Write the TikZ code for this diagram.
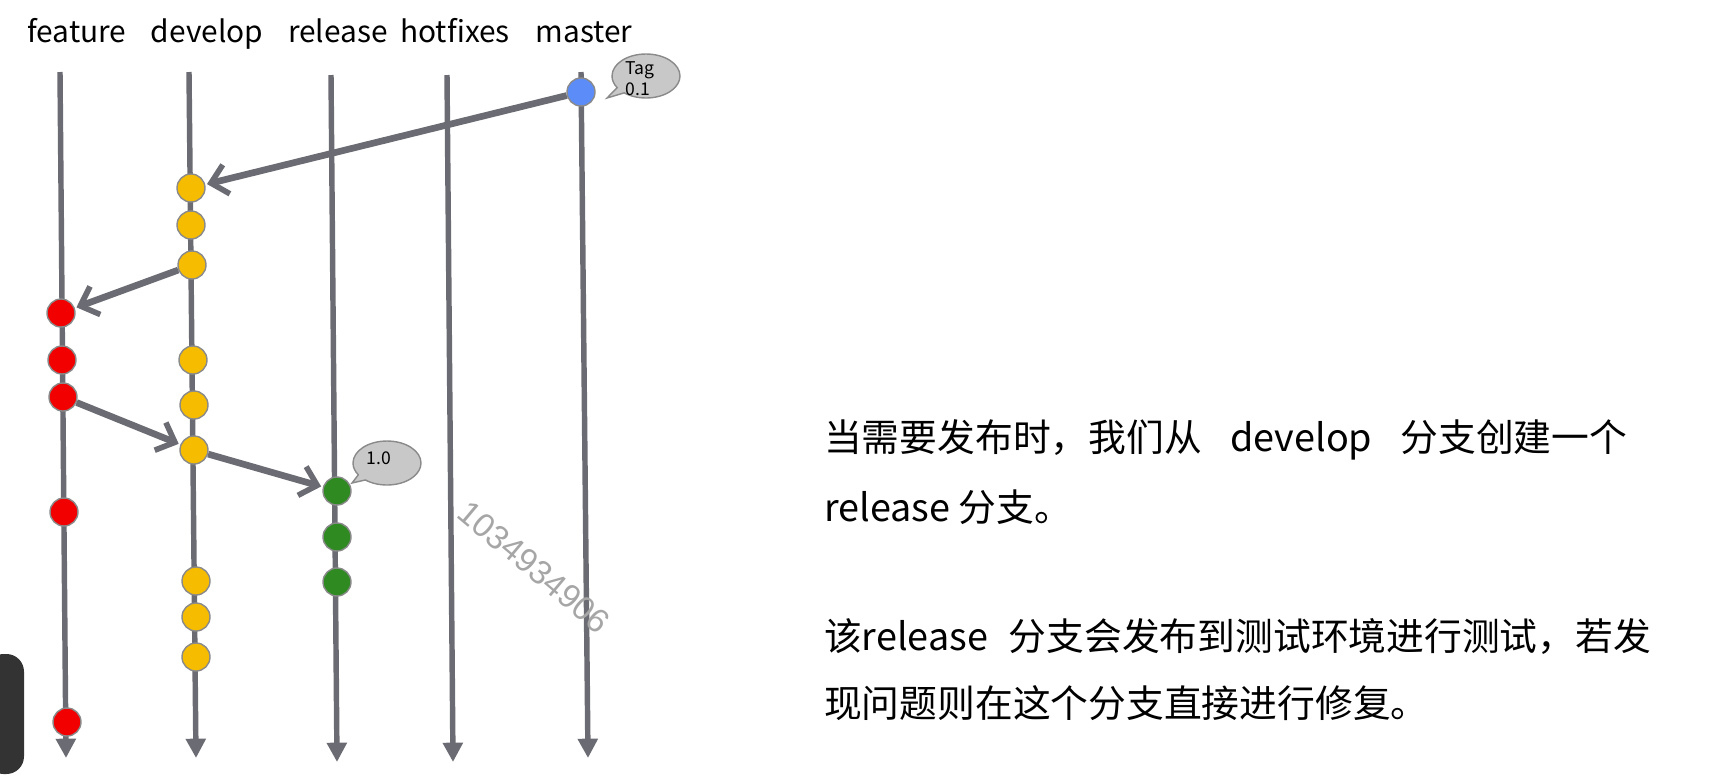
\documentclass[tikz,border=0pt]{standalone}
\usepackage{fontspec}
\setmainfont{Noto Sans CJK SC}
\newfontfamily\markfont{Liberation Sans}
\usepackage{xcolor}
\usetikzlibrary{arrows.meta,shapes.callouts}

\definecolor{lanegray}{HTML}{6B6C73}
\definecolor{ringgray}{HTML}{8A8A8A}
\definecolor{tagfill}{HTML}{C8C8C8}
\definecolor{commitblue}{HTML}{5B8CF7}
\definecolor{commityellow}{HTML}{F6BC00}
\definecolor{commitred}{HTML}{F20000}
\definecolor{commitgreen}{HTML}{2F8A22}

\tikzset{
    lanename/.style={anchor=base, font=\fontsize{17}{20}\selectfont, text=black},
    lane/.style={draw=lanegray, line width=3.1pt, -{Triangle[length=11pt,width=11pt]}},
    commit/.style={circle, draw=ringgray, line width=0.8pt, minimum size=0.56cm, inner sep=0pt},
    merge/.style={draw=lanegray, line width=3.8pt, -{Straight Barb[length=9pt,width=17pt,line width=3.2pt]}, shorten >=1pt},
    tagbubble/.style={ellipse callout, draw=ringgray, fill=tagfill, line width=0.8pt,
        minimum width=1.36cm, minimum height=0.88cm, inner sep=0pt, callout pointer arc=18},
    notes/.style={anchor=west, font=\fontsize{21.5}{26}\selectfont, text=black}
}

\begin{document}
\begin{tikzpicture}[x=0.02cm, y=-0.02cm]
    \useasboundingbox (0,0) rectangle (1716,782);

    % branch names
    \node[lanename] (nfeature) at (77,42) {feature};
    \node[lanename] (ndevelop) at (207,42) {develop};
    \node[lanename] (nrelease) at (338,42) {release};
    \node[lanename] (nhotfixes) at (455,42) {hotfixes};
    \node[lanename] (nmaster) at (584,42) {master};

    % lanes
    \coordinate (ftop) at (60,72);   \coordinate (fbot) at (66,758);
    \coordinate (dtop) at (189,72);  \coordinate (dbot) at (196,758);
    \coordinate (rtop) at (331,75);  \coordinate (rbot) at (337,762);
    \coordinate (htop) at (447,75);  \coordinate (hbot) at (453,762);
    \coordinate (mtop) at (581,72);  \coordinate (mbot) at (588,758);
    \draw[lane] (ftop) -- (fbot);
    \draw[lane] (dtop) -- (dbot);
    \draw[lane] (rtop) -- (rbot);
    \draw[lane] (htop) -- (hbot);
    \draw[lane] (mtop) -- (mbot);

    % commits
    \node[commit, fill=commitblue] (m1) at (581,92) {};

    \node[commit, fill=commityellow] (d1) at (191,188) {};
    \node[commit, fill=commityellow] (d2) at (191,225) {};
    \node[commit, fill=commityellow] (d3) at (192,265) {};
    \node[commit, fill=commityellow] (d4) at (193,360) {};
    \node[commit, fill=commityellow] (d5) at (194,405) {};
    \node[commit, fill=commityellow] (d6) at (194,450) {};
    \node[commit, fill=commityellow] (d7) at (196,581) {};
    \node[commit, fill=commityellow] (d8) at (196,617) {};
    \node[commit, fill=commityellow] (d9) at (196,657) {};

    \node[commit, fill=commitred] (f1) at (61,313) {};
    \node[commit, fill=commitred] (f2) at (62,360) {};
    \node[commit, fill=commitred] (f3) at (63,397) {};
    \node[commit, fill=commitred] (f4) at (64,512) {};
    \node[commit, fill=commitred] (f5) at (67,722) {};

    \node[commit, fill=commitgreen] (r1) at (337,491) {};
    \node[commit, fill=commitgreen] (r2) at (337,537) {};
    \node[commit, fill=commitgreen] (r3) at (337,582) {};

    % merges
    \draw[merge] (m1) -- (d1);
    \draw[merge] (d3) -- (f1);
    \draw[merge] (f3) -- (d6);
    \draw[merge] (d6) -- (r1);

    % tags
    \node[tagbubble, callout absolute pointer={(607,98)}] (tag01) at (646,76) {};
    \node[font=\fontsize{10}{11}\selectfont, align=left] (tag01text) at (640,79) {Tag\\[1pt]0.1};
    \node[tagbubble, callout absolute pointer={(352,483)}] (tag10) at (387,463) {};
    \node[font=\fontsize{10}{11}\selectfont] (tag10text) at (379,458) {1.0};

    % watermark
    \node[font=\markfont\fontsize{19}{20}\selectfont, text=gray!70, rotate=-40] (wmark) at (534,567) {1034934906};

    % player edge
    \fill[black!80, rounded corners=10] (-14,654) -- (24,654) -- (24,774) -- (-14,774) -- cycle;

    % notes
    \node[notes] (line1) at (818,440) {当需要发布时，我们从\hspace{0.75em}develop\hspace{0.75em}分支创建一个};
    \node[notes] (line2) at (818,507) {release 分支。};
    \node[notes] (line3) at (818,637) {该release\hspace{0.55em}分支会发布到测试环境进行测试，若发};
    \node[notes] (line4) at (818,703) {现问题则在这个分支直接进行修复。};
\end{tikzpicture}
\end{document}
